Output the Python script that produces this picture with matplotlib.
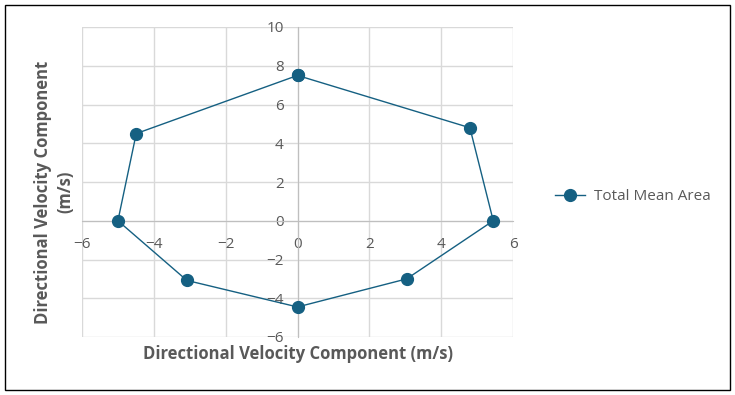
import matplotlib
matplotlib.use("Agg")
import matplotlib.pyplot as plt
from matplotlib.patches import Rectangle

# Datos (polígono cerrado)
vel_x = [0, 4.8, 5.45, 3.04, 0, -3.08, -5.0, -4.49, 0]
vel_y = [7.5, 4.8, 0, -3.0, -4.45, -3.08, 0, 4.5, 7.5]
serie = "Total Mean Area"
x_ticks = [-6, -4, -2, 0, 2, 4, 6]
y_ticks = [-6, -4, -2, 0, 2, 4, 6, 8, 10]

plt.rcParams['font.family'] = ['Open Sans', 'DejaVu Sans']
gris = '#595959'
color = '#156082'

fig = plt.figure(figsize=(7.35, 3.95), dpi=100)
ax = fig.add_axes([82 / 735, 1 - 337 / 395, (513 - 82) / 735, (337 - 27) / 395])

ax.plot(vel_x, vel_y, color=color, lw=1, marker='o', markersize=8.5,
        label=serie, zorder=3, clip_on=False)

ax.set_xlim(-6, 6)
ax.set_ylim(-6, 10)
ax.set_xticks(x_ticks)
ax.set_yticks(y_ticks)
ax.set_xticklabels([str(t).replace('-', '\u2212') for t in x_ticks])
ax.set_yticklabels([str(t).replace('-', '\u2212') for t in y_ticks])
ax.grid(True, color='#d9d9d9', lw=1)
ax.set_axisbelow(True)

# ejes cruzando en el origen
ax.spines['left'].set_position(('data', 0))
ax.spines['bottom'].set_position(('data', 0))
ax.spines['left'].set_color('#bfbfbf')
ax.spines['bottom'].set_color('#bfbfbf')
ax.spines['right'].set_visible(False)
ax.spines['top'].set_visible(False)
ax.tick_params(length=0, labelsize=11, colors=gris)
ax.tick_params(axis='x', pad=12)
ax.tick_params(axis='y', pad=10)

fig.text(298 / 735, 1 - 354 / 395, "Directional Velocity Component (m/s)",
         ha='center', va='center', fontsize=12, fontweight='bold', color=gris)
fig.text(54 / 735, 1 - 192 / 395, "Directional Velocity Component\n(m/s)",
         ha='center', va='center', rotation=90, fontsize=12,
         fontweight='bold', color=gris, linespacing=1.35)

leg = fig.legend(loc='center left', bbox_to_anchor=(541 / 735, 1 - 197 / 395),
                 frameon=False, fontsize=11, handlelength=2.0, handletextpad=0.6,
                 labelcolor=gris)

fig.patches.append(Rectangle((5 / 735, 5 / 395), 725 / 735, 385 / 395,
                             transform=fig.transFigure, fill=False,
                             edgecolor='black', lw=1))

fig.savefig('out.png', dpi=100)
